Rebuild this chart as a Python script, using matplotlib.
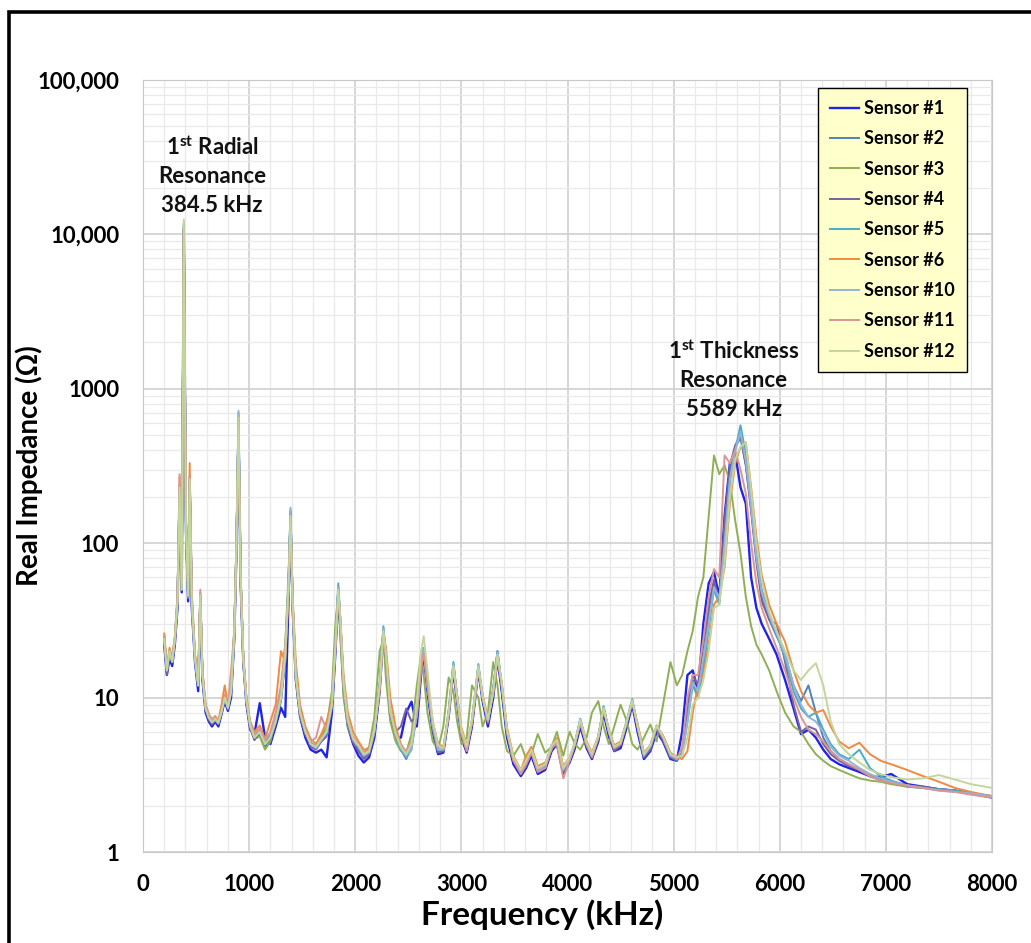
import matplotlib
matplotlib.use("Agg")
import matplotlib.pyplot as plt
import matplotlib.patches as patches
from matplotlib.ticker import FixedLocator, NullFormatter, LogLocator

plt.rcParams['font.family'] = ['Lato', 'DejaVu Sans']
plt.rcParams['font.weight'] = 'bold'

# frequency grid shared by all sensors (kHz)
freq_khz = [
    200, 225, 250, 275, 300, 325, 345, 365, 384.5, 405,
    425, 440, 460, 490, 520, 540, 560, 590, 620, 650,
    680, 710, 740, 770, 800, 830, 860, 880, 900, 920,
    945, 975, 1010, 1050, 1100, 1150, 1200, 1250, 1300, 1340,
    1370, 1390, 1410, 1440, 1480, 1530, 1580, 1630, 1680, 1730,
    1780, 1810, 1840, 1860, 1890, 1930, 1980, 2030, 2080, 2130,
    2180, 2230, 2265, 2290, 2330, 2380, 2430, 2480, 2530, 2580,
    2620, 2645, 2680, 2730, 2780, 2830, 2880, 2925, 2960, 3000,
    3050, 3100, 3160, 3200, 3250, 3300, 3340, 3380, 3430, 3490,
    3560, 3610, 3660, 3720, 3790, 3850, 3900, 3960, 4020, 4070,
    4120, 4180, 4230, 4290, 4340, 4390, 4440, 4500, 4560, 4610,
    4660, 4720, 4780, 4840, 4900, 4970, 5030, 5080, 5130, 5180,
    5230, 5280, 5330, 5380, 5430, 5480, 5530, 5580, 5630, 5680,
    5730, 5780, 5830, 5900, 5970, 6050, 6130, 6200, 6270, 6340,
    6410, 6480, 6560, 6650, 6750, 6850, 6950, 7050, 7200, 7350,
    7500, 7650, 7800, 8000]

# real impedance (ohm)
sensor_1 = [
    22, 14, 18, 16, 22, 38, 200, 48, 10500, 120,
    42, 240, 38, 17, 11, 42, 13, 8, 7, 6.5,
    7, 6.5, 7.8, 9.5, 8.2, 10, 24, 85, 560, 55,
    17, 9, 6.2, 5.8, 9.2, 5.5, 5, 6.5, 8.6, 7.5,
    40, 140, 38, 13, 7.5, 5.5, 4.6, 4.4, 4.6, 4.1,
    8, 18, 45, 28, 11, 6.5, 5, 4.2, 3.8, 4.1,
    5.5, 11, 26, 17, 7.5, 5.5, 5.5, 8, 9.4, 6.5,
    14, 19, 11, 6, 4.3, 4.4, 7.5, 15, 9.5, 5.5,
    4.4, 6.5, 15, 9.5, 6.5, 10, 18, 11, 5.5, 3.7,
    3.1, 3.5, 4.2, 3.2, 3.4, 4.5, 5, 3.2, 3.8, 4.7,
    6.5, 4.7, 4, 5.2, 8, 5.6, 4.5, 4.7, 6.5, 9,
    6, 4, 4.5, 6, 5.2, 4, 3.9, 6, 14, 15,
    11, 30, 55, 65, 45, 150, 330, 380, 230, 180,
    60, 38, 30, 24, 19, 13, 8.5, 5.8, 6.2, 5.5,
    4.6, 4, 3.7, 3.5, 3.3, 3.1, 3.05, 3.2, 2.75, 2.65,
    2.55, 2.5, 2.4, 2.25]
sensor_2 = [
    25, 15, 20, 17, 24, 42, 230, 52, 11500, 135,
    46, 270, 42, 18, 12, 46, 14, 8.5, 7.4, 6.9,
    7.3, 6.9, 8.2, 10, 8.6, 11, 26, 95, 640, 62,
    18, 9.6, 6.6, 5.4, 5.8, 4.8, 5.3, 6.8, 9.5, 17,
    52, 160, 42, 14, 8, 6, 5.1, 4.8, 5.2, 5.8,
    8.5, 21, 52, 31, 12, 7, 5.2, 4.7, 4.1, 4.3,
    6, 12, 28, 18, 8, 5.6, 4.6, 4, 4.8, 8,
    17, 21, 12, 6.4, 4.5, 4.5, 8.2, 16.5, 10, 6,
    4.6, 7, 16, 10, 7, 11.5, 20, 12, 6, 4,
    3.3, 3.8, 4.6, 3.4, 3.6, 4.9, 5.3, 3.4, 4, 5.1,
    7.2, 5, 4.2, 5.6, 8.7, 6, 4.6, 5, 7, 9.6,
    6.5, 4.1, 4.7, 6.4, 5.4, 4.1, 3.9, 4.3, 7.5, 13,
    10, 17, 35, 55, 42, 110, 280, 420, 480, 320,
    170, 80, 45, 32, 25, 19, 12, 9.5, 12, 8,
    5.5, 4.5, 4, 3.7, 3.4, 3.1, 2.9, 2.8, 2.65, 2.6,
    2.55, 2.5, 2.4, 2.3]
sensor_3 = [
    23, 15, 19, 17, 23, 42, 240, 50, 12000, 130,
    44, 250, 40, 18, 12, 44, 14, 8.5, 7.5, 7,
    7.4, 7, 8.2, 10, 8.6, 11, 28, 100, 580, 55,
    17, 9.4, 6.4, 5.4, 5.6, 4.6, 5.2, 7.2, 11, 22,
    60, 140, 36, 13, 7.6, 5.8, 5, 4.8, 5.5, 6.5,
    11, 28, 48, 24, 10, 6.5, 5.2, 4.8, 4.4, 4.8,
    7.5, 20, 24, 13, 7, 5.2, 4.5, 4.4, 5.8, 12,
    19, 14, 8, 5.2, 4.6, 6.5, 13.5, 11, 7, 5,
    5.5, 12, 10, 6.5, 8, 17, 12, 6.5, 4.5, 4.2,
    5, 4, 4.3, 5.8, 4.4, 4.8, 6, 4.2, 6, 5,
    4.6, 5.5, 8, 9.5, 6.5, 5, 6.5, 9, 7, 5,
    4.6, 5.5, 6.7, 5.2, 9, 17, 12, 14, 20, 27,
    45, 60, 150, 370, 280, 320, 250, 140, 86, 45,
    29, 22, 19, 15, 11, 8, 6.5, 6, 5, 4.3,
    3.9, 3.6, 3.4, 3.2, 3.0, 2.9, 2.85, 2.75, 2.65, 2.6,
    2.55, 2.5, 2.4, 2.3]
sensor_4 = [
    24, 14, 19, 17, 23, 40, 210, 50, 11000, 125,
    44, 250, 40, 18, 12, 44, 14, 8.3, 7.2, 6.7,
    7.1, 6.7, 7.9, 9.8, 8.4, 10.5, 24, 88, 620, 58,
    17, 9.2, 6.3, 5.3, 6, 5, 5.4, 6.9, 9.8, 18,
    48, 155, 40, 13.5, 7.8, 5.8, 4.8, 4.6, 5.2, 5.6,
    8.8, 19, 50, 30, 12, 6.8, 5.1, 4.5, 4, 4.3,
    5.8, 11.5, 27, 17.5, 7.8, 6, 6.5, 8.5, 7, 7.5,
    15, 20, 12, 6.2, 4.4, 4.5, 7.8, 16, 9.8, 5.8,
    4.5, 6.8, 15.5, 9.8, 6.8, 11, 19.5, 11.5, 5.8, 3.9,
    3.2, 3.6, 4.4, 3.3, 3.5, 4.7, 5.2, 3.3, 3.9, 4.9,
    7, 4.9, 4.1, 5.4, 8.4, 5.9, 4.5, 4.9, 6.8, 9.4,
    6.3, 4.1, 4.6, 6.3, 5.3, 4.1, 4, 4.4, 9, 14,
    12, 22, 40, 58, 42, 140, 320, 430, 500, 320,
    160, 75, 42, 32, 30, 17, 9, 6, 6.5, 6.2,
    5, 4.3, 3.9, 3.6, 3.4, 3.1, 2.95, 2.85, 2.7, 2.65,
    2.55, 2.5, 2.4, 2.3]
sensor_5 = [
    25, 15, 20, 18, 24, 44, 230, 52, 11500, 135,
    46, 265, 42, 18.5, 12, 46, 14.5, 8.6, 7.5, 7,
    7.3, 6.9, 8.1, 10, 8.7, 11, 26, 95, 700, 62,
    18, 9.6, 6.6, 5.6, 6.2, 5.2, 5.7, 7.2, 10, 19,
    55, 165, 42, 14, 8.2, 6.1, 5.1, 4.8, 5.4, 6,
    9, 21, 55, 32, 12.5, 7.2, 5.4, 4.9, 4.3, 4.5,
    6, 12.5, 29, 18.5, 8.2, 5.7, 4.6, 4.1, 4.6, 8,
    17, 21, 12.5, 6.6, 4.6, 4.6, 8.2, 17, 10.2, 6.1,
    4.7, 7.2, 16.5, 10.2, 7.1, 11.5, 20, 12.2, 6.1, 4,
    3.3, 3.8, 4.6, 3.4, 3.7, 4.9, 5.3, 3.4, 4.1, 5.1,
    7.3, 5.1, 4.3, 5.6, 8.8, 6.1, 4.8, 5.1, 7.2, 9.8,
    6.6, 4.3, 4.9, 6.6, 5.6, 4.3, 4, 4.2, 7, 12,
    10, 15, 28, 50, 40, 95, 250, 400, 580, 380,
    190, 85, 50, 35, 26, 18, 11, 8.5, 7.5, 8,
    6.2, 5, 4.3, 4, 4.6, 3.5, 3.1, 2.9, 2.7, 2.6,
    2.55, 2.5, 2.4, 2.3]
sensor_6 = [
    26, 16, 21, 18, 25, 45, 270, 55, 11000, 140,
    50, 330, 45, 19, 13, 48, 15, 9, 7.8, 7.2,
    7.6, 7.1, 9, 12, 9, 11.5, 27, 92, 580, 60,
    19, 10, 7, 6, 6.6, 5.4, 7, 9, 20, 17,
    45, 140, 45, 17, 9, 6.5, 5.4, 5, 5.8, 7,
    9.5, 20, 48, 32, 14, 8, 6, 5.2, 4.6, 4.7,
    6.2, 11, 26, 21, 10, 6.5, 5, 4.4, 5.2, 7.5,
    15, 20, 13, 7, 5, 4.8, 7.8, 15.5, 10.5, 6.4,
    4.9, 6.8, 15, 10.5, 7.3, 10.5, 18, 12.5, 6.4, 4.2,
    3.4, 4.2, 4.8, 3.6, 3.8, 4.6, 5.5, 3.6, 4.1, 5,
    7, 5.2, 4.4, 5.6, 8.2, 6.2, 4.9, 5.2, 7, 9.2,
    6.8, 4.4, 4.9, 6.4, 5.7, 4.4, 4.1, 4, 4.5, 8,
    12, 14, 22, 40, 45, 70, 180, 330, 420, 450,
    230, 110, 62, 40, 30, 23, 15, 11, 9, 8,
    8.3, 6.5, 5.2, 4.7, 5.1, 4.3, 3.9, 3.7, 3.4, 3.1,
    2.85, 2.6, 2.45, 2.3]
sensor_10 = [
    24, 15, 20, 17, 24, 42, 220, 50, 11500, 130,
    45, 255, 41, 18, 12, 45, 14, 8.5, 7.4, 6.9,
    7.2, 6.8, 8, 10, 8.5, 11, 25, 92, 720, 60,
    18, 9.5, 6.5, 5.5, 6, 5, 5.5, 7, 10, 18,
    52, 170, 41, 14, 8, 6, 5, 4.7, 5.3, 5.9,
    9, 20, 52, 31, 12, 7, 5.3, 4.8, 4.2, 4.4,
    6, 12, 28, 18, 8, 5.8, 4.7, 4.2, 4.7, 7.8,
    16, 20.5, 12, 6.5, 4.6, 4.6, 8, 16.5, 10, 6,
    4.7, 7, 16, 10, 7, 11, 19.5, 12, 6, 4,
    3.3, 3.8, 4.5, 3.4, 3.6, 4.8, 5.2, 3.4, 4, 5,
    7, 5, 4.2, 5.5, 8.5, 6, 4.7, 5, 7, 9.5,
    6.5, 4.2, 4.8, 6.5, 5.5, 4.2, 4, 4.3, 7, 12.5,
    11, 18, 30, 52, 44, 100, 260, 400, 520, 340,
    170, 80, 48, 34, 26, 19, 12, 9, 7.5, 7,
    6, 4.8, 4.2, 3.9, 3.5, 3.2, 3, 2.85, 2.7, 2.6,
    2.5, 2.45, 2.4, 2.3]
sensor_11 = [
    25, 15, 20, 18, 24, 45, 280, 55, 11000, 140,
    48, 270, 48, 19, 13, 50, 15, 9, 7.8, 7.2,
    7.5, 7, 8.3, 10.5, 9, 15, 27, 95, 600, 60,
    18, 9.8, 6.8, 5.8, 6.3, 5.3, 6, 8, 12, 22,
    48, 145, 40, 14, 8.2, 6.2, 5.2, 5.5, 7.5, 6.2,
    9, 20, 48, 30, 12, 7.2, 5.5, 5, 4.4, 4.6,
    6.2, 12, 26, 18, 8, 5.9, 4.9, 4.5, 5.2, 8.5,
    16, 19.5, 12, 6.8, 5, 4.6, 7.8, 15.5, 10, 5.8,
    4.5, 7, 15.5, 10, 7, 11, 18.5, 12, 6, 3.9,
    3.2, 3.7, 4.4, 3.3, 3.5, 4.7, 5, 3, 3.9, 5,
    6.8, 4.9, 4.1, 5.5, 8.5, 6, 4.7, 5, 7, 9.5,
    6.5, 4.3, 4.9, 6.6, 5.5, 4.3, 4, 4.8, 10, 14,
    14, 24, 45, 68, 60, 370, 330, 400, 300, 210,
    100, 55, 38, 28, 21, 15, 10, 7.5, 6.2, 5.8,
    5.2, 4.5, 4, 3.7, 3.4, 3.1, 2.9, 2.8, 2.7, 2.6,
    2.5, 2.45, 2.35, 2.25]
sensor_12 = [
    24, 15, 20, 17, 24, 42, 230, 50, 12500, 135,
    46, 260, 42, 18, 12, 46, 14, 8.5, 7.4, 6.9,
    7.3, 6.9, 8.1, 10, 8.6, 11, 26, 95, 650, 62,
    18, 9.6, 6.6, 5.5, 6, 5, 5.5, 7, 10, 19,
    50, 150, 42, 14, 8, 6, 5, 4.8, 5.4, 6,
    9, 20, 50, 32, 12.5, 7.2, 5.4, 4.9, 4.3, 4.5,
    6.2, 12, 27, 19, 8.2, 5.9, 4.8, 4.3, 5, 9,
    20, 25, 15, 7, 4.9, 4.7, 8, 16, 10.2, 6.2,
    4.8, 7.2, 16, 10.2, 7.2, 11, 19, 12.5, 6.2, 4.1,
    3.4, 3.9, 4.6, 3.5, 3.7, 4.9, 5.3, 3.5, 4.1, 5.1,
    7.2, 5.1, 4.3, 5.6, 8.6, 6.1, 4.8, 5.1, 7.1, 9.6,
    6.6, 4.3, 4.9, 6.6, 5.6, 4.3, 4.1, 4.2, 5.5, 9,
    10, 13, 20, 38, 40, 75, 200, 350, 420, 450,
    220, 100, 58, 36, 27, 20, 15, 13, 15, 16.7,
    12, 7, 5, 4.3, 3.8, 3.4, 3.2, 3.05, 2.95, 3,
    3.15, 2.95, 2.75, 2.6]

sensor_names = ['Sensor #1', 'Sensor #2', 'Sensor #3', 'Sensor #4', 'Sensor #5',
                'Sensor #6', 'Sensor #10', 'Sensor #11', 'Sensor #12']
sensor_data = [sensor_1, sensor_2, sensor_3, sensor_4, sensor_5,
               sensor_6, sensor_10, sensor_11, sensor_12]
colors = ['#1F24E6', '#4F81BD', '#8FAF55', '#7A5FA0', '#4BACC6',
          '#F08A40', '#95B3D7', '#D99694', '#C3D69B']

y_ticks = [1, 10, 100, 1000, 10000, 100000]
y_labels = ['1', '10', '100', '1000', '10,000', '100,000']
x_ticks = [0, 1000, 2000, 3000, 4000, 5000, 6000, 7000, 8000]

fig = plt.figure(figsize=(10.31, 9.43), dpi=100)
ax = fig.add_axes([0.1387, 0.0965, 0.8235, 0.8187])

for name, vals, col in zip(sensor_names, sensor_data, colors):
    lw = 1.7 if name == 'Sensor #1' else 1.4
    ax.plot(freq_khz, vals, color=col, lw=lw, label=name)

ax.set_yscale('log')
ax.set_xlim(0, 8000)
ax.set_ylim(1, 100000)

ax.xaxis.set_major_locator(FixedLocator(x_ticks))
ax.xaxis.set_minor_locator(FixedLocator(list(range(0, 8001, 200))))
ax.set_xticklabels([str(t) for t in x_ticks])
ax.yaxis.set_major_locator(FixedLocator(y_ticks))
ax.yaxis.set_minor_locator(LogLocator(base=10, subs=range(2, 10)))
ax.yaxis.set_minor_formatter(NullFormatter())
ax.set_yticklabels(y_labels)

ax.grid(True, which='major', color='#D0D0D0', lw=1.2)
ax.grid(True, which='minor', color='#E9E9E9', lw=0.9)
ax.set_axisbelow(True)
for s in ax.spines.values():
    s.set_color('#C8C8C8')
ax.tick_params(which='both', length=0)
ax.tick_params(axis='x', pad=16, labelsize=16)
ax.tick_params(axis='y', pad=17, labelsize=16)
for lab in ax.get_xticklabels() + ax.get_yticklabels():
    lab.set_fontweight('bold')

ax.set_xlabel('Frequency (kHz)', fontsize=24, fontweight='bold')
ax.set_ylabel('Real Impedance (\u03a9)', fontsize=20, fontweight='bold')
ax.xaxis.set_label_coords(0.47, -0.061)
ax.yaxis.set_label_coords(-0.118, 0.5)

# resonance annotations
ann = dict(ha='center', va='center', fontsize=16, fontweight='bold', color='#111111')
ax.text(651, 36500, '1$^{\\mathdefault{st}}$ Radial', **ann)
ax.text(651, 23700, 'Resonance', **ann)
ax.text(651, 15400, '384.5 kHz', **ann)
ax.text(5566, 1750, '1$^{\\mathdefault{st}}$ Thickness', **ann)
ax.text(5566, 1135, 'Resonance', **ann)
ax.text(5566, 737, '5589 kHz', **ann)

leg = ax.legend(loc='upper left', bbox_to_anchor=(0.795, 0.99), fontsize=13,
                frameon=True, fancybox=False, framealpha=1, facecolor='#FFFFCC',
                edgecolor='black', labelspacing=0.74, handlelength=1.6,
                handletextpad=0.25, borderpad=0.68, borderaxespad=0)
leg.get_frame().set_linewidth(1.0)
for t in leg.get_texts():
    t.set_fontweight('bold')

# black frame around the whole chart
fig.patches.append(patches.Rectangle((0.0092, -0.05), 1.2, 1.0378, transform=fig.transFigure,
                                     fill=False, edgecolor='black', lw=2.6))

fig.savefig('out.png', dpi=100)
